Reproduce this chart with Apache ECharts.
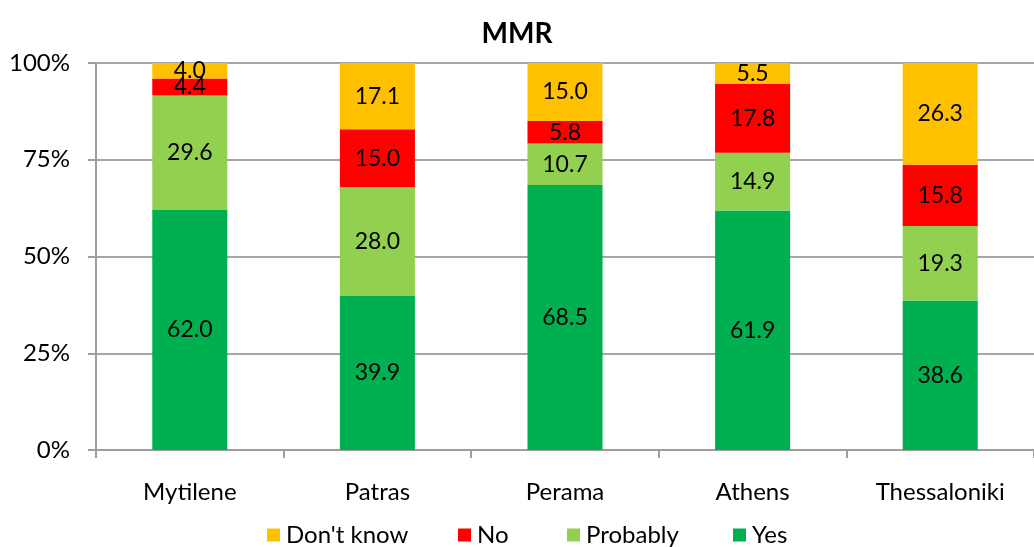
<!DOCTYPE html>
<html>
<head>
<meta charset="utf-8">
<script src="https://cdn.jsdelivr.net/npm/echarts@6/dist/echarts.min.js"></script>
<style>html,body{margin:0;padding:0;background:#fff;}#c{width:1034px;height:547px;}</style>
</head>
<body>
<div id="c"></div>
<script>
const categories = ['Mytilene', 'Patras', 'Perama', 'Athens', 'Thessaloniki'];
const yesVals = [62.0, 39.9, 68.5, 61.9, 38.6];
const probablyVals = [29.6, 28.0, 10.7, 14.9, 19.3];
const noVals = [4.4, 15.0, 5.8, 17.8, 15.8];
const dontKnowVals = [4.0, 17.1, 15.0, 5.5, 26.3];
const yTicks = ['0%', '25%', '50%', '75%', '100%'];
const legendNames = ["Don't know", 'No', 'Probably', 'Yes'];

const FONT = 'Lato, "Liberation Sans", sans-serif';
const chart = echarts.init(document.getElementById('c'), null, {renderer: 'canvas'});

function mk(name, data, color) {
  return {
    name: name, type: 'bar', stack: 'all', data: data, barWidth: '40%',
    itemStyle: {color: color},
    label: {show: true, position: 'inside', color: '#000', fontFamily: FONT, fontSize: 23,
      formatter: p => p.value.toFixed(1)},
    emphasis: {disabled: true}
  };
}

const legendLefts = [267, 458, 567, 733];
const legends = legendNames.map((n, i) => ({
  top: 523, left: legendLefts[i], padding: 0, itemWidth: 13, itemHeight: 13, icon: 'rect', itemGap: 0,
  textStyle: {fontFamily: FONT, fontSize: 24, color: '#000', padding: [0, 0, 0, 1]},
  data: [n]
}));

chart.setOption({
  animation: false,
  title: {text: 'MMR', left: 'center', top: 15,
    textStyle: {fontFamily: FONT, fontSize: 28, fontWeight: 'bold', color: '#000'}},
  grid: {left: 96, top: 63, width: 945, height: 387, containLabel: false},
  legend: legends,
  xAxis: {
    type: 'category', data: categories,
    axisLine: {lineStyle: {color: '#9e9e9e', width: 2}},
    axisTick: {show: true, length: 8, lineStyle: {color: '#9e9e9e', width: 2}},
    axisLabel: {fontFamily: FONT, fontSize: 24, color: '#000', margin: 30}
  },
  yAxis: {
    type: 'value', min: 0, max: 100, interval: 25,
    axisLine: {show: true, lineStyle: {color: '#9e9e9e', width: 2}},
    axisTick: {show: true, length: 8, lineStyle: {color: '#9e9e9e', width: 2}},
    splitLine: {show: true, lineStyle: {color: '#a6a6a6', width: 2}},
    axisLabel: {fontFamily: FONT, fontSize: 24, color: '#000', margin: 26,
      formatter: v => yTicks[Math.round(v / 25)]}
  },
  series: [
    mk('Yes', yesVals, '#00B050'),
    mk('Probably', probablyVals, '#92D050'),
    mk('No', noVals, '#FF0000'),
    mk("Don't know", dontKnowVals, '#FFC000')
  ]
});
</script>
</body>
</html>
